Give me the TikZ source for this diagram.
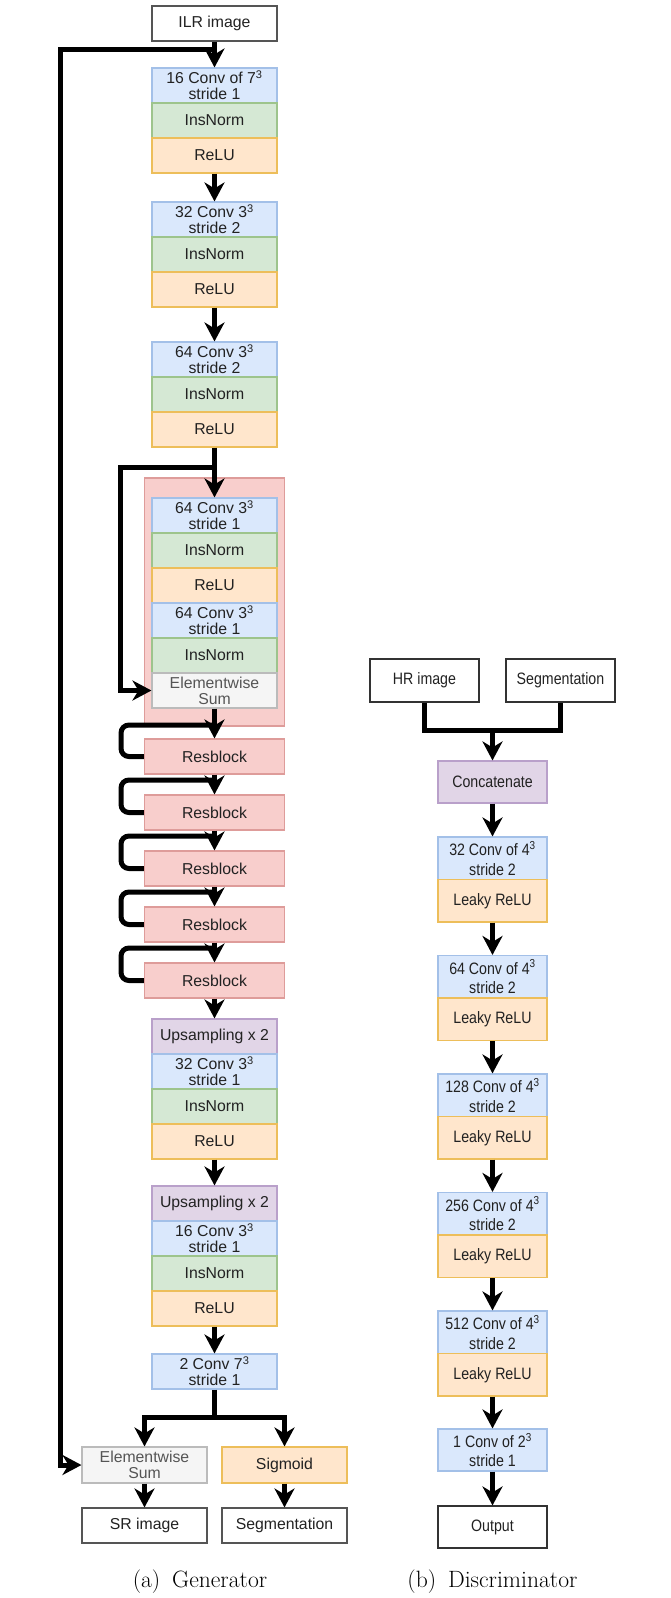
\documentclass[tikz,border=0pt]{standalone}
\usepackage{fontspec}
\setsansfont{Liberation Sans}
\newfontfamily\dfont[FakeStretch=0.86]{Liberation Sans}
\usetikzlibrary{arrows.meta,calc}
\definecolor{bluef}{HTML}{DAE8FC}\definecolor{blued}{HTML}{A3C0E8}
\definecolor{greenf}{HTML}{D5E8D4}\definecolor{greend}{HTML}{9DC48C}
\definecolor{orangef}{HTML}{FFE6CC}\definecolor{oranged}{HTML}{EDBE5A}
\definecolor{redf}{HTML}{F8CECC}\definecolor{redd}{HTML}{DE9C9A}
\definecolor{purplef}{HTML}{E1D5E7}\definecolor{purpled}{HTML}{B9A0CA}
\definecolor{grayf}{HTML}{F5F5F5}\definecolor{grayd}{HTML}{BBBBBB}
\definecolor{txt}{HTML}{222222}\definecolor{graytxt}{HTML}{555555}
\definecolor{whited}{HTML}{555555}
\begin{document}
\begin{tikzpicture}[x=1pt,y=-1pt,
  box/.style={draw, line width=1.1pt, inner sep=0pt, minimum width=125pt, minimum height=35pt,
    align=center, text=txt, font=\sffamily\fontsize{15.8}{16}\selectfont},
  wide/.style={minimum width=140pt},
  bluebox/.style={box, fill=bluef, draw=blued},
  greenbox/.style={box, fill=greenf, draw=greend},
  orangebox/.style={box, fill=orangef, draw=oranged},
  redbox/.style={box, fill=redf, draw=redd},
  purplebox/.style={box, fill=purplef, draw=purpled},
  graybox/.style={box, fill=grayf, draw=grayd, text=graytxt},
  whitebox/.style={box, fill=white, draw=whited},
  dbox/.style={minimum width=109pt, minimum height=42.5pt, font=\dfont\fontsize{16.5}{19.5}\selectfont},
  ln/.style={line width=5pt},
  arr/.style={ln, -{Stealth[length=19pt,width=20pt,inset=6pt]}},
  rloop/.style={ln, rounded corners=8pt},
  capt/.style={anchor=base, font=\fontsize{23.6}{28}\selectfont}
]
\useasboundingbox (0,0) rectangle (670,1598);

% ---------------- Generator ----------------
\node[redbox, minimum width=140pt, minimum height=248pt] (rbig) at (214.5,602) {};

\node[whitebox] (ilr) at (214.5,23.5) {ILR image};
\node[bluebox] (c1) at (214.5,85.5) {16 Conv of 7\textsuperscript{3}\\stride 1};
\node[greenbox] (n1) at (214.5,120.5) {InsNorm};
\node[orangebox] (r1) at (214.5,155.5) {ReLU};

\node[bluebox] (c2) at (214.5,219.5) {32 Conv 3\textsuperscript{3}\\stride 2};
\node[greenbox] (n2) at (214.5,254.5) {InsNorm};
\node[orangebox] (r2) at (214.5,289.5) {ReLU};

\node[bluebox] (c3) at (214.5,359.5) {64 Conv 3\textsuperscript{3}\\stride 2};
\node[greenbox] (n3) at (214.5,394.5) {InsNorm};
\node[orangebox] (r3) at (214.5,429.5) {ReLU};

\node[bluebox] (ic1) at (214.5,515.5) {64 Conv 3\textsuperscript{3}\\stride 1};
\node[greenbox] (in1) at (214.5,550.5) {InsNorm};
\node[orangebox] (ir1) at (214.5,585.5) {ReLU};
\node[bluebox] (ic2) at (214.5,620.5) {64 Conv 3\textsuperscript{3}\\stride 1};
\node[greenbox] (in2) at (214.5,655.5) {InsNorm};
\node[graybox] (ies) at (214.5,690.5) {Elementwise\\Sum};

\node[redbox, wide] (rb1) at (214.5,756.5) {Resblock};
\node[redbox, wide] (rb2) at (214.5,812.5) {Resblock};
\node[redbox, wide] (rb3) at (214.5,868.5) {Resblock};
\node[redbox, wide] (rb4) at (214.5,924.5) {Resblock};
\node[redbox, wide] (rb5) at (214.5,980.5) {Resblock};

\node[purplebox] (u1) at (214.5,1036.5) {Upsampling x 2};
\node[bluebox] (uc1) at (214.5,1071.5) {32 Conv 3\textsuperscript{3}\\stride 1};
\node[greenbox] (un1) at (214.5,1106.5) {InsNorm};
\node[orangebox] (ur1) at (214.5,1141.5) {ReLU};

\node[purplebox] (u2) at (214.5,1203.5) {Upsampling x 2};
\node[bluebox] (uc2) at (214.5,1238.5) {16 Conv 3\textsuperscript{3}\\stride 1};
\node[greenbox] (un2) at (214.5,1273.5) {InsNorm};
\node[orangebox] (ur2) at (214.5,1308.5) {ReLU};

\node[bluebox] (fc) at (214.5,1371.5) {2 Conv 7\textsuperscript{3}\\stride 1};

\node[graybox, minimum height=36pt] (esum) at (144.5,1465) {Elementwise\\Sum};
\node[orangebox, minimum height=36pt] (sig) at (284.5,1465) {Sigmoid};
\node[whitebox] (sr) at (144.5,1525.5) {SR image};
\node[whitebox] (seg) at (284.5,1525.5) {Segmentation};

% connectors
\coordinate (j0) at (214.5,49);
\coordinate (j1) at (214.5,467);
\coordinate (k1) at (214.5,725);
\coordinate (k2) at (214.5,780);
\coordinate (k3) at (214.5,836);
\coordinate (k4) at (214.5,892);
\coordinate (k5) at (214.5,948);
\coordinate (jb) at (214.5,1417);

\draw[arr] (j0) -- ++(-154.5,0) |- (esum.west);
\draw[arr] (j1) -- ++(-94,0) |- (ies.west);
\draw[rloop] (k1) -- ++(-93.5,0) |- (rb1.west);
\draw[rloop] (k2) -- ++(-93.5,0) |- (rb2.west);
\draw[rloop] (k3) -- ++(-93.5,0) |- (rb3.west);
\draw[rloop] (k4) -- ++(-93.5,0) |- (rb4.west);
\draw[rloop] (k5) -- ++(-93.5,0) |- (rb5.west);

\draw[arr] (ilr.south) -- (c1.north);
\draw[arr] (r1.south) -- (c2.north);
\draw[arr] (r2.south) -- (c3.north);
\draw[arr] (r3.south) -- (ic1.north);
\draw[arr] (ies.south) -- (rb1.north);
\draw[arr] (rb1.south) -- (rb2.north);
\draw[arr] (rb2.south) -- (rb3.north);
\draw[arr] (rb3.south) -- (rb4.north);
\draw[arr] (rb4.south) -- (rb5.north);
\draw[arr] (rb5.south) -- (u1.north);
\draw[arr] (ur1.south) -- (u2.north);
\draw[arr] (ur2.south) -- (fc.north);
\draw[ln] (fc.south) -- (jb);
\draw[arr] (jb) -| (esum.north);
\draw[arr] (jb) -| (sig.north);
\draw[arr] (esum.south) -- (sr.north);
\draw[arr] (sig.south) -- (seg.north);

\node[capt] (capa) at (200,1587) {(a)\hspace{0.5em}Generator};

% ---------------- Discriminator ----------------
\node[whitebox, dbox, minimum height=43pt, draw=black!80] (hr) at (424.5,680.5) {HR image};
\node[whitebox, dbox, minimum height=43pt, draw=black!80] (sg) at (560.5,680.5) {Segmentation};
\node[purplebox, dbox, minimum height=42pt] (cat) at (492.5,782) {Concatenate};

\node[bluebox, dbox] (d1) at (492.5,858.25) {32 Conv of 4\textsuperscript{3}\\stride 2};
\node[orangebox, dbox] (l1) at (492.5,900.75) {Leaky ReLU};
\node[bluebox, dbox] (d2) at (492.5,976.75) {64 Conv of 4\textsuperscript{3}\\stride 2};
\node[orangebox, dbox] (l2) at (492.5,1019.25) {Leaky ReLU};
\node[bluebox, dbox] (d3) at (492.5,1095.25) {128 Conv of 4\textsuperscript{3}\\stride 2};
\node[orangebox, dbox] (l3) at (492.5,1137.75) {Leaky ReLU};
\node[bluebox, dbox] (d4) at (492.5,1213.75) {256 Conv of 4\textsuperscript{3}\\stride 2};
\node[orangebox, dbox] (l4) at (492.5,1256.25) {Leaky ReLU};
\node[bluebox, dbox] (d5) at (492.5,1332.25) {512 Conv of 4\textsuperscript{3}\\stride 2};
\node[orangebox, dbox] (l5) at (492.5,1374.75) {Leaky ReLU};
\node[bluebox, dbox, minimum height=42pt] (d6) at (492.5,1450) {1 Conv of 2\textsuperscript{3}\\stride 1};
\node[whitebox, dbox, minimum height=42pt, draw=black!80] (out) at (492.5,1527) {Output};

\coordinate (jd) at (492.5,730);
\draw[ln] (hr.south) |- (jd) -| (sg.south);
\draw[arr] (jd) -- (cat.north);
\draw[arr] (cat.south) -- (d1.north);
\draw[arr] (l1.south) -- (d2.north);
\draw[arr] (l2.south) -- (d3.north);
\draw[arr] (l3.south) -- (d4.north);
\draw[arr] (l4.south) -- (d5.north);
\draw[arr] (l5.south) -- (d6.north);
\draw[arr] (d6.south) -- (out.north);

\node[capt] (capb) at (492.5,1587) {(b)\hspace{0.5em}Discriminator};
\end{tikzpicture}
\end{document}
